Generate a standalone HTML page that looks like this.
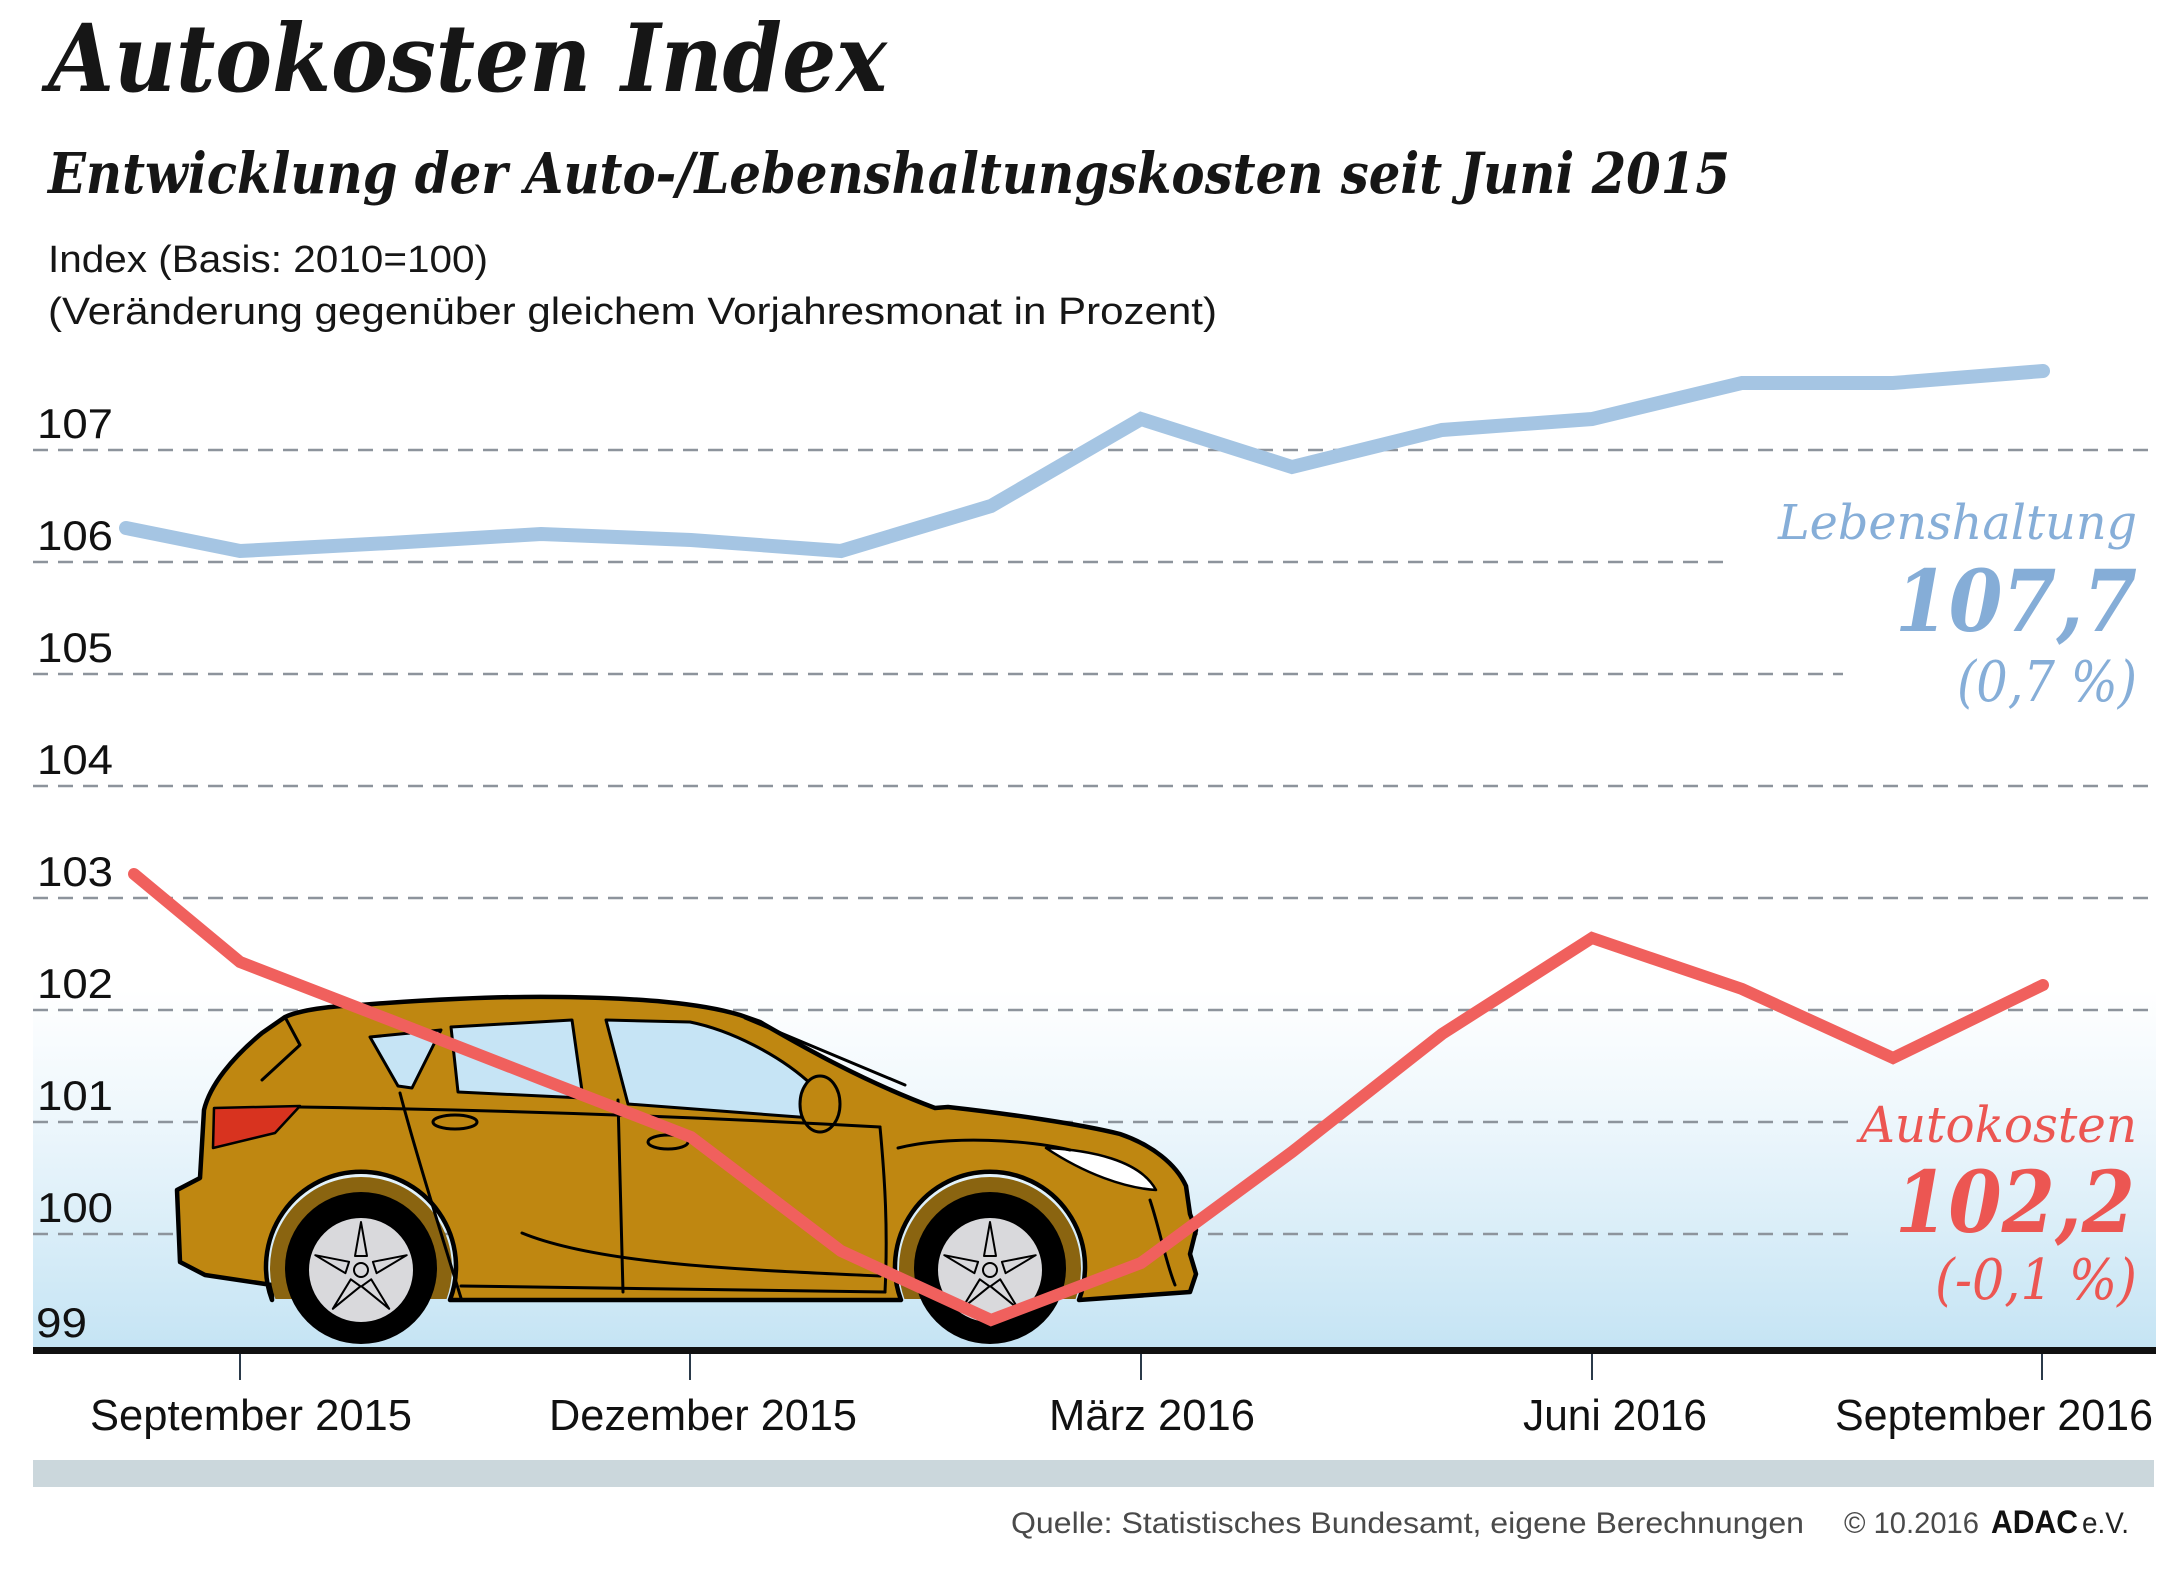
<!DOCTYPE html>
<html>
<head>
<meta charset="utf-8">
<style>
  html,body{margin:0;padding:0;background:#fff;}
  svg{display:block;}
</style>
</head>
<body>
<svg width="2176" height="1574" viewBox="0 0 2176 1574" xmlns="http://www.w3.org/2000/svg">
  <defs>
    <linearGradient id="bg" x1="0" y1="0" x2="0" y2="1">
      <stop offset="0" stop-color="#ffffff"/>
      <stop offset="0.35" stop-color="#eef7fc"/>
      <stop offset="1" stop-color="#c5e4f4"/>
    </linearGradient>
    <clipPath id="archclip"><rect x="0" y="0" width="2176" height="1299"/></clipPath>
  </defs>

  <rect width="2176" height="1574" fill="#fff"/>

  <!-- Title -->
  <text x="48" y="91" font-family="DejaVu Serif, Liberation Serif, serif" font-weight="bold" font-style="italic" font-size="94" fill="#161616" textLength="839" lengthAdjust="spacingAndGlyphs">Autokosten Index</text>
  <text x="48" y="193" font-family="DejaVu Serif, Liberation Serif, serif" font-weight="bold" font-style="italic" font-size="56" fill="#161616" textLength="1682" lengthAdjust="spacingAndGlyphs">Entwicklung der Auto-/Lebenshaltungskosten seit Juni 2015</text>
  <text x="48" y="272" font-family="Liberation Sans, sans-serif" font-size="38" fill="#161616" textLength="440" lengthAdjust="spacingAndGlyphs">Index (Basis: 2010=100)</text>
  <text x="48" y="324" font-family="Liberation Sans, sans-serif" font-size="38" fill="#161616" textLength="1169" lengthAdjust="spacingAndGlyphs">(Veränderung gegenüber gleichem Vorjahresmonat in Prozent)</text>

  <!-- background gradient -->
  <rect x="33" y="990" width="2123" height="358" fill="url(#bg)"/>

  <!-- gridlines -->
  <g stroke="#8d949c" stroke-width="2.5" stroke-dasharray="15 10" fill="none">
    <line x1="33" y1="450" x2="2156" y2="450"/>
    <line x1="33" y1="562" x2="1732" y2="562"/>
    <line x1="33" y1="674" x2="1843" y2="674"/>
    <line x1="33" y1="786" x2="2156" y2="786"/>
    <line x1="33" y1="898" x2="2156" y2="898"/>
    <line x1="33" y1="1010" x2="2156" y2="1010"/>
    <line x1="33" y1="1122" x2="1856" y2="1122"/>
    <line x1="33" y1="1234" x2="1856" y2="1234"/>
  </g>

  <!-- y labels -->
  <g font-family="Liberation Sans, sans-serif" font-size="42" fill="#111">
    <text x="37" y="438" textLength="76" lengthAdjust="spacingAndGlyphs">107</text>
    <text x="37" y="550" textLength="76" lengthAdjust="spacingAndGlyphs">106</text>
    <text x="37" y="662" textLength="76" lengthAdjust="spacingAndGlyphs">105</text>
    <text x="37" y="774" textLength="76" lengthAdjust="spacingAndGlyphs">104</text>
    <text x="37" y="886" textLength="76" lengthAdjust="spacingAndGlyphs">103</text>
    <text x="37" y="998" textLength="76" lengthAdjust="spacingAndGlyphs">102</text>
    <text x="37" y="1110" textLength="76" lengthAdjust="spacingAndGlyphs">101</text>
    <text x="37" y="1222" textLength="76" lengthAdjust="spacingAndGlyphs">100</text>
    <text x="36" y="1337" textLength="51" lengthAdjust="spacingAndGlyphs">99</text>
  </g>

  <!-- Car -->
  <g stroke="#000" stroke-linejoin="round" stroke-linecap="round">
    <!-- body -->
    <path d="M 285 1017 C 300 1010, 330 1006, 360 1005 C 420 1000, 500 996, 560 997 C 640 998, 700 1003, 740 1015 L 760 1022 C 800 1045, 860 1080, 935 1108 L 948 1107 C 1010 1114, 1080 1124, 1120 1134 C 1152 1145, 1176 1164, 1186 1186 L 1190 1214 L 1196 1230 L 1190 1254 L 1196 1274 L 1190 1292 L 1079 1300 A 95 95 0 1 0 901 1300 L 450 1300 A 95 95 0 1 0 272 1300 L 272 1285 L 205 1275 L 180 1262 L 177 1190 L 200 1178 L 204 1110 C 210 1085, 232 1058, 262 1033 Z" fill="#bf8711" stroke-width="4.5"/>
    <!-- wheel arches -->
    <g clip-path="url(#archclip)" stroke="none" fill="#8a6410">
      <circle cx="361" cy="1268" r="91"/>
      <circle cx="990" cy="1268" r="91"/>
    </g>
    <!-- windows -->
    <path d="M 370 1037 L 441 1030 L 412 1088 L 398 1086 Z" fill="#c6e4f5" stroke-width="3"/>
    <path d="M 451 1027 L 572 1020 L 583 1098 L 458 1092 Z" fill="#c6e4f5" stroke-width="3"/>
    <path d="M 606 1020 L 690 1022 C 730 1030, 780 1055, 812 1085 L 812 1118 L 628 1104 Z" fill="#c6e4f5" stroke-width="3"/>
    <ellipse cx="820" cy="1104" rx="20" ry="28" fill="#bf8711" stroke-width="3"/>
    <!-- tail light / headlight -->
    <path d="M 214 1108 L 300 1106 L 275 1133 L 213 1148 Z" fill="#d8331f" stroke-width="2.5"/>
    <path d="M 1046 1148 C 1090 1150, 1140 1160, 1156 1190 C 1125 1188, 1085 1174, 1046 1148 Z" fill="#ffffff" stroke-width="2.5"/>
    <!-- body lines -->
    <g fill="none" stroke-width="3">
      <path d="M 400 1093 C 415 1150, 440 1230, 461 1298"/>
      <path d="M 618 1100 L 623 1292"/>
      <path d="M 880 1127 C 885 1180, 888 1230, 885 1292"/>
      <path d="M 299 1107 C 500 1110, 700 1117, 880 1127"/>
      <path d="M 461 1286 L 885 1292"/>
      <path d="M 522 1233 C 600 1265, 750 1270, 880 1276"/>
      <path d="M 898 1148 C 950 1135, 1030 1140, 1070 1150"/>
      <path d="M 745 1018 L 905 1085"/>
      <path d="M 285 1017 L 300 1045 L 262 1080"/>
      <path d="M 1150 1200 C 1160 1230, 1165 1260, 1175 1285"/>
      <ellipse cx="455" cy="1122" rx="22" ry="7"/>
      <ellipse cx="668" cy="1142" rx="20" ry="7"/>
    </g>
    <!-- wheels -->
    <g>
      <circle cx="361" cy="1268" r="76" fill="#000" stroke="none"/>
      <circle cx="361" cy="1270" r="53" fill="#d9d9dc" stroke-width="2"/>
      <g stroke-width="2" fill="none">
        <path d="M 361 1270 m 0 -48 l -6 34 l 12 0 z"/>
        <path d="M 361 1270 m 45.7 -14.8 l -33.8 6.6 l 3.7 11.4 z"/>
        <path d="M 361 1270 m 28.2 38.8 l -18 -29.5 l -9.7 7 z"/>
        <path d="M 361 1270 m -28.2 38.8 l 18 -29.5 l 9.7 7 z"/>
        <path d="M 361 1270 m -45.7 -14.8 l 33.8 6.6 l -3.7 11.4 z"/>
      </g>
      <circle cx="361" cy="1270" r="7" fill="#d9d9dc" stroke-width="2"/>

      <circle cx="990" cy="1268" r="76" fill="#000" stroke="none"/>
      <circle cx="990" cy="1270" r="53" fill="#d9d9dc" stroke-width="2"/>
      <g stroke-width="2" fill="none">
        <path d="M 990 1270 m 0 -48 l -6 34 l 12 0 z"/>
        <path d="M 990 1270 m 45.7 -14.8 l -33.8 6.6 l 3.7 11.4 z"/>
        <path d="M 990 1270 m 28.2 38.8 l -18 -29.5 l -9.7 7 z"/>
        <path d="M 990 1270 m -28.2 38.8 l 18 -29.5 l 9.7 7 z"/>
        <path d="M 990 1270 m -45.7 -14.8 l 33.8 6.6 l -3.7 11.4 z"/>
      </g>
      <circle cx="990" cy="1270" r="7" fill="#d9d9dc" stroke-width="2"/>
    </g>
  </g>

  <!-- Lebenshaltung line -->
  <polyline fill="none" stroke="#a5c5e3" stroke-width="14" stroke-linejoin="miter" stroke-linecap="round"
    points="126,528 240,551 390,543 541,534 691,540 841,551 991,506 1141,419 1292,467 1442,430 1592,419 1742,383 1893,383 2043,371"/>

  <!-- Autokosten line -->
  <polyline fill="none" stroke="#f0605d" stroke-width="12" stroke-linejoin="miter" stroke-linecap="round"
    points="134,874 240,962 390,1020 541,1079 691,1137 841,1251 991,1320 1141,1263 1292,1152 1442,1034 1592,938 1742,989 1893,1058 2043,985"/>

  <!-- axis -->
  <rect x="33" y="1347" width="2123" height="7" fill="#111"/>
  <g stroke="#2b3a4a" stroke-width="2">
    <line x1="240" y1="1354" x2="240" y2="1380"/>
    <line x1="690" y1="1354" x2="690" y2="1380"/>
    <line x1="1141" y1="1354" x2="1141" y2="1380"/>
    <line x1="1592" y1="1354" x2="1592" y2="1380"/>
    <line x1="2042" y1="1354" x2="2042" y2="1380"/>
  </g>
  <g font-family="Liberation Sans, sans-serif" font-size="44" fill="#111">
    <text x="90" y="1430" textLength="322" lengthAdjust="spacingAndGlyphs">September 2015</text>
    <text x="549" y="1430" textLength="308" lengthAdjust="spacingAndGlyphs">Dezember 2015</text>
    <text x="1049" y="1430" textLength="206" lengthAdjust="spacingAndGlyphs">März 2016</text>
    <text x="1523" y="1430" textLength="184" lengthAdjust="spacingAndGlyphs">Juni 2016</text>
    <text x="1835" y="1430" textLength="318" lengthAdjust="spacingAndGlyphs">September 2016</text>
  </g>

  <!-- grey bar -->
  <rect x="33" y="1460" width="2121" height="27" fill="#cbd7dc"/>

  <!-- source -->
  <g font-family="Liberation Sans, sans-serif" font-size="30" fill="#4a4a4a">
    <text x="1011" y="1533" textLength="793" lengthAdjust="spacingAndGlyphs">Quelle: Statistisches Bundesamt, eigene Berechnungen</text>
    <text x="1844" y="1533" textLength="135" lengthAdjust="spacingAndGlyphs">© 10.2016</text>
    <text x="1991" y="1533" font-weight="bold" font-size="32" fill="#111" textLength="87" lengthAdjust="spacingAndGlyphs">ADAC</text>
    <text x="2082" y="1533" fill="#222" textLength="47" lengthAdjust="spacingAndGlyphs">e.V.</text>
  </g>

  <!-- right labels -->
  <g font-family="DejaVu Serif, Liberation Serif, serif" font-style="italic">
    <text x="1778" y="539" font-size="48" fill="#86aed8" textLength="359" lengthAdjust="spacingAndGlyphs">Lebenshaltung</text>
    <text x="1895" y="631" font-size="85" font-weight="bold" fill="#85add7" textLength="242" lengthAdjust="spacingAndGlyphs">107,7</text>
    <text x="1957" y="701" font-size="56" fill="#86aed8" textLength="180" lengthAdjust="spacingAndGlyphs">(0,7 %)</text>

    <text x="1860" y="1142" font-size="50" fill="#ec5652" textLength="277" lengthAdjust="spacingAndGlyphs">Autokosten</text>
    <text x="1895" y="1232" font-size="85" font-weight="bold" fill="#ec5652" textLength="240" lengthAdjust="spacingAndGlyphs">102,2</text>
    <text x="1935" y="1299" font-size="56" fill="#ec5652" textLength="202" lengthAdjust="spacingAndGlyphs">(-0,1 %)</text>
  </g>
</svg>
</body>
</html>
